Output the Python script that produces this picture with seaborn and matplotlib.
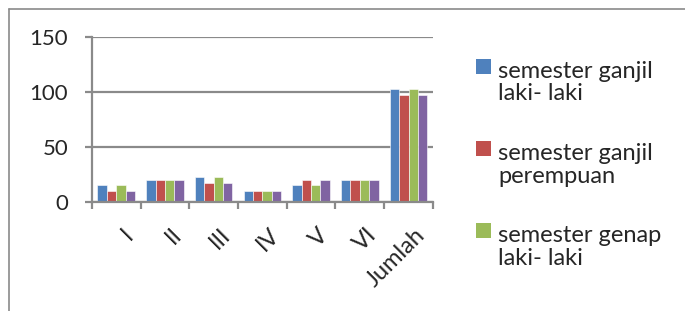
import matplotlib
matplotlib.use("Agg")
import matplotlib.pyplot as plt
import matplotlib.transforms as mtrans
from matplotlib.legend_handler import HandlerBase
import seaborn as sns
import pandas as pd

# data
kelas = ['I', 'II', 'III', 'IV', 'V', 'VI', 'Jumlah']
ganjil_laki = [15, 20, 23, 10, 15, 20, 103]
ganjil_perempuan = [10, 20, 17, 10, 20, 20, 97]
genap_laki = [15, 20, 23, 10, 15, 20, 103]
genap_perempuan = [10, 20, 17, 10, 20, 20, 97]
series_names = ['semester ganjil\nlaki- laki', 'semester ganjil\nperempuan',
                'semester genap\nlaki- laki', 'semester genap\nperempuan']
colors = ['#4F81BD', '#C0504D', '#9BBB59', '#8064A2']

rows = []
for name, vals in zip(series_names, [ganjil_laki, ganjil_perempuan, genap_laki, genap_perempuan]):
    for k, v in zip(kelas, vals):
        rows.append({'Kelas': k, 'Seri': name, 'Nilai': v})
df = pd.DataFrame(rows)

sns.set_style('white')
plt.rcParams['font.family'] = ['Lato', 'DejaVu Sans']


# legend square sits next to the first line of a two-line label
class TopSquare(HandlerBase):
    def create_artists(self, legend, orig_handle, xdescent, ydescent, width, height, fontsize, trans):
        s = 0.64 * fontsize
        r = plt.Rectangle((-xdescent, -ydescent + height - s + 0.2 * fontsize), s, s,
                          facecolor=orig_handle.get_facecolor(), edgecolor='none', transform=trans)
        return [r]


fig = plt.figure(figsize=(6.85, 3.11), dpi=100)
ax = fig.add_axes([0.134, 0.3505, 0.498, 0.5305])

sns.barplot(data=df, x='Kelas', y='Nilai', hue='Seri', palette=colors,
            width=0.77, ax=ax, legend=False, saturation=1, edgecolor='white', linewidth=0.4)

grid_c = '#8a8a8a'
ax.set_ylim(0, 150)
ax.set_yticks([0, 50, 100, 150])
ax.set_xlim(-0.5, len(kelas) - 0.5)
ax.yaxis.grid(True, color=grid_c, linewidth=1.6)
ax.set_axisbelow(True)
for s in ['top', 'right']:
    ax.spines[s].set_visible(False)
for s in ['left', 'bottom']:
    ax.spines[s].set_color(grid_c)
    ax.spines[s].set_linewidth(1.6)
ax.set_xlabel('')
ax.set_ylabel('')

# category boundary ticks on x, labels at the centres
ax.set_xticks([i - 0.5 for i in range(len(kelas) + 1)], minor=False)
ax.set_xticklabels([])
ax.set_xticks(range(len(kelas)), minor=True)
ax.set_xticklabels(kelas, minor=True, rotation=45, ha='right', rotation_mode='anchor', fontsize=17)
ax.tick_params(axis='x', which='major', length=5, width=1.6, color=grid_c, direction='out', bottom=True)
ax.tick_params(axis='x', which='minor', length=0, pad=16)
ax.tick_params(axis='y', length=5, width=1.6, color=grid_c, direction='out', left=True, labelsize=16, pad=12)
shift = mtrans.ScaledTranslation(0.06, 0, fig.dpi_scale_trans)
for lbl in ax.get_xticklabels(minor=True):
    lbl.set_transform(lbl.get_transform() + shift)

# only three entries fit, the fourth is cut off as in the original
handles = [plt.Rectangle((0, 0), 1, 1, color=c) for c in colors[:3]]
leg = fig.legend(handles, series_names[:3], loc='upper left', bbox_to_anchor=(0.681, 0.835),
                 frameon=False, fontsize=17, handlelength=0.64, handleheight=2.3,
                 handletextpad=0.3, labelspacing=1.63, borderaxespad=0,
                 handler_map={plt.Rectangle: TopSquare()})
for t in leg.get_texts():
    t.set_linespacing(1.1)

# outer chart frame (right and bottom are cut off in the reference)
fig.add_artist(plt.Line2D([0.013, 1.0], [0.972, 0.972], color=grid_c, linewidth=1.2, transform=fig.transFigure))
fig.add_artist(plt.Line2D([0.013, 0.013], [0.0, 0.972], color=grid_c, linewidth=1.2, transform=fig.transFigure))

fig.savefig('out.png', dpi=100)
